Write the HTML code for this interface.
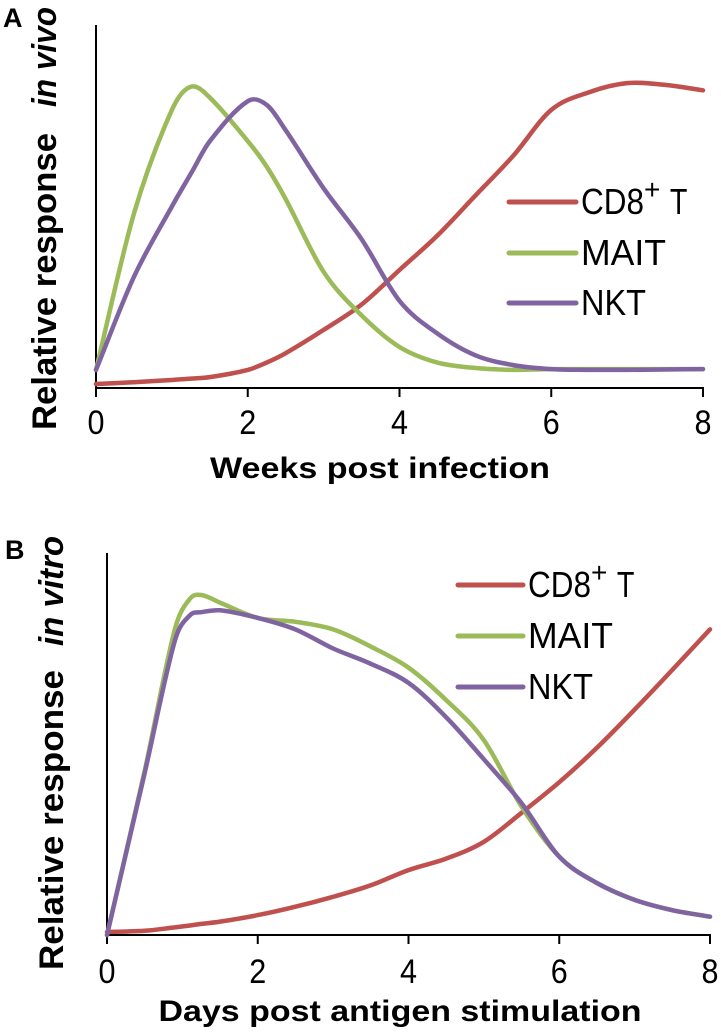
<!DOCTYPE html>
<html><head><meta charset="utf-8"><style>
html,body{margin:0;padding:0;background:#fff;}
svg{display:block;font-family:"Liberation Sans",Arial,sans-serif;}
</style></head><body>
<svg id="fig" width="721" height="1033" viewBox="0 0 721 1033">
  <g id="panelA">
    <text x="3" y="27" font-size="27" font-weight="bold">A</text>
    <text transform="translate(56,430) rotate(-90)" font-size="34" font-weight="bold"><tspan textLength="297" lengthAdjust="spacingAndGlyphs">Relative response</tspan><tspan dx="26" font-style="italic" textLength="100" lengthAdjust="spacingAndGlyphs">in vivo</tspan></text>
    <text x="380" y="478" font-size="30" font-weight="bold" text-anchor="middle" textLength="340" lengthAdjust="spacingAndGlyphs">Weeks post infection</text>
    <g id="axesA"></g>
    <g id="linesA"></g>
    <g id="legendA"></g>
  </g>
  <g id="panelB">
    <text x="5" y="559" font-size="27" font-weight="bold">B</text>
    <text transform="translate(63,970) rotate(-90)" font-size="34" font-weight="bold"><tspan textLength="300" lengthAdjust="spacingAndGlyphs">Relative response</tspan><tspan dx="24" font-style="italic" textLength="110" lengthAdjust="spacingAndGlyphs">in vitro</tspan></text>
    <text x="400" y="1021" font-size="30" font-weight="bold" text-anchor="middle" textLength="483" lengthAdjust="spacingAndGlyphs">Days post antigen stimulation</text>
    <g id="axesB"></g>
    <g id="linesB"></g>
    <g id="legendB"></g>
  </g>
</svg>
<script>
// ---- Panel A data (weeks, relative response 0-100) ----
const weeksA = [0, 0.5, 1, 1.25, 1.5, 2, 2.25, 2.5, 3, 3.5, 4, 4.5, 5, 5.5, 6, 6.5, 7, 7.5, 8];
const cd8A  = [1.1, 1.6, 2.2, 2.6, 3, 5, 7, 9.6, 16, 23, 32.5, 42, 53, 64, 76.6, 81.5, 84, 83.5, 82];
const maitA = [5, 48, 76.6, 83, 80, 68, 61, 52, 32, 20, 11.3, 7, 5.5, 5, 5.2, 5.2, 5.2, 5.2, 5.2];
const nktA  = [5, 30.6, 50, 59, 68, 79, 78, 71, 55, 41, 24, 15, 9, 6.3, 5.2, 5, 5, 5.1, 5.2];
const ticksA = [0, 2, 4, 6, 8];

// ---- Panel B data (days, relative response 0-100) ----
const daysB = [0, 0.5, 0.9, 1.1, 1.25, 1.5, 2, 2.5, 3, 3.5, 4, 4.5, 5, 5.5, 6, 6.5, 7, 7.5, 8];
const cd8B  = [0.8, 1.1, 2, 2.5, 2.9, 3.5, 5.2, 7.4, 10, 13, 17, 20, 24.4, 32, 40, 49, 59, 69.4, 80];
const maitB = [0, 43, 80, 88, 89, 87, 83, 82, 80, 75.5, 70, 61.5, 51, 33.6, 20.5, 13.6, 9.2, 6.5, 4.8];
const nktB  = [0, 42.4, 77, 83.7, 84.5, 85, 83, 80, 75, 71, 66, 57, 46, 34.5, 20.5, 13.6, 9.2, 6.5, 4.8];
const ticksB = [0, 2, 4, 6, 8];

const seriesNames = ["CD8", "MAIT", "NKT"];
const colors = ["#c0504d", "#9bbb59", "#8064a2"];
const NS = "http://www.w3.org/2000/svg";

function mk(tag, attrs, parent) {
  const e = document.createElementNS(NS, tag);
  for (const k in attrs) e.setAttribute(k, attrs[k]);
  parent.appendChild(e);
  return e;
}
function smoothPath(pts) {
  const n = pts.length;
  const m = pts.map((p, i) => {
    const a = pts[Math.max(0, i - 1)], b = pts[Math.min(n - 1, i + 1)];
    return (b[1] - a[1]) / (b[0] - a[0]);
  });
  let d = "M" + pts[0][0].toFixed(1) + "," + pts[0][1].toFixed(1);
  for (let i = 0; i < n - 1; i++) {
    const p1 = pts[i], p2 = pts[i + 1], dx = (p2[0] - p1[0]) / 3;
    d += " C" + (p1[0] + dx).toFixed(1) + "," + (p1[1] + m[i] * dx).toFixed(1) + " " +
         (p2[0] - dx).toFixed(1) + "," + (p2[1] - m[i + 1] * dx).toFixed(1) + " " +
         p2[0].toFixed(1) + "," + p2[1].toFixed(1);
  }
  return d;
}

function drawPanel(cfg) {
  const xS = v => cfg.x0 + (v - 0) / 8 * (cfg.x1 - cfg.x0);
  const yS = v => cfg.yb - v / 100 * (cfg.yb - cfg.yt);
  const ax = document.getElementById(cfg.axesId);
  const yAxis = mk("line", {x1: cfg.x0, y1: cfg.yt, x2: cfg.x0, y2: cfg.yb, stroke: "#000", "stroke-width": 2}, ax);
  
  
  const xAxis = mk("line", {x1: cfg.x0 - 1, y1: cfg.yb, x2: cfg.x1 + 1, y2: cfg.yb, stroke: "#000", "stroke-width": 2}, ax);
  
  
  cfg.ticks.forEach(t => {
    const tk = mk("line", {x1: xS(t), y1: cfg.yb, x2: xS(t), y2: cfg.yb + 9, stroke: "#000", "stroke-width": 2}, ax);
    
    
    const lb = mk("text", {x: xS(t), y: cfg.tickY, "font-size": 34, "text-anchor": "middle", textLength: 17, lengthAdjust: "spacingAndGlyphs"}, ax);
    lb.textContent = String(t);
    
    
  });
  const lg = document.getElementById(cfg.linesId);
  cfg.series.forEach((vals, si) => {
    const pts = cfg.xs.map((x, i) => [xS(x), yS(vals[i])]);
    const p = mk("path", {d: smoothPath(pts), fill: "none", stroke: colors[si], "stroke-width": 4.5, "stroke-linejoin": "round", "stroke-linecap": "round"}, lg);
    
    
  });
  const leg = document.getElementById(cfg.legendId);
  const lens = [0, 85, 65];
  cfg.legY.forEach((ly, si) => {
    const g = mk("g", {}, leg);
    
    
    mk("line", {x1: cfg.legX0, y1: ly, x2: cfg.legX1, y2: ly, stroke: colors[si], "stroke-width": 5, "stroke-linecap": "round"}, g);
    const t = mk("text", {x: cfg.legX1 + 5, y: ly + 12, "font-size": 36}, g);
    if (si === 0) {
      t.innerHTML = '<tspan textLength="63" lengthAdjust="spacingAndGlyphs">CD8</tspan><tspan dy="-15" font-size="28">+</tspan><tspan dy="15" dx="2" textLength="25" lengthAdjust="spacingAndGlyphs"> T</tspan>';
    } else {
      t.textContent = seriesNames[si];
      t.setAttribute("textLength", lens[si]);
      t.setAttribute("lengthAdjust", "spacingAndGlyphs");
    }
  });
}

drawPanel({axesId: "axesA", linesId: "linesA", legendId: "legendA",
  x0: 96, x1: 703, yb: 388, yt: 25, tickY: 434, ticks: ticksA, xs: weeksA,
  series: [cd8A, maitA, nktA], legX0: 509, legX1: 576, legY: [202, 253, 303]});
drawPanel({axesId: "axesB", linesId: "linesB", legendId: "legendB",
  x0: 107, x1: 710, yb: 935, yt: 553, tickY: 983, ticks: ticksB, xs: daysB,
  series: [cd8B, maitB, nktB], legX0: 458, legX1: 523, legY: [585, 636, 687]});
</script>
</body></html>
